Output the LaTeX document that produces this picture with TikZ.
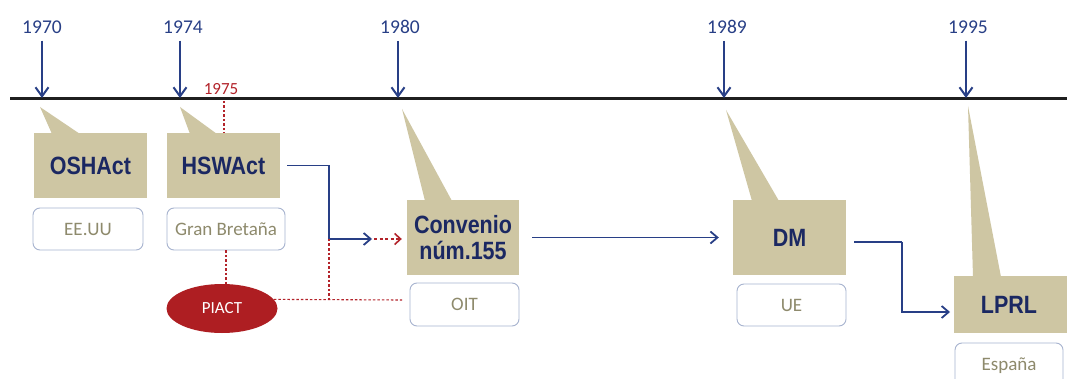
\documentclass[tikz,border=0pt]{standalone}
\usepackage{fontspec}
\setmainfont{Carlito}
\newfontfamily\boxfont{Liberation Sans}[FakeStretch=0.86]
\usetikzlibrary{arrows.meta,shapes.geometric}
\definecolor{tanc}{HTML}{CEC6A3}
\definecolor{navy}{HTML}{1B2862}
\definecolor{lineblue}{HTML}{283F86}
\definecolor{dred}{HTML}{B3232A}
\definecolor{olivetxt}{HTML}{8E8A6C}
\definecolor{bordr}{HTML}{A7B3CF}
\definecolor{piactred}{HTML}{AE1E22}
\tikzset{
  yearlbl/.style={text=lineblue, font=\fontsize{19.5}{21}\selectfont, inner sep=0pt},
  yarrow/.style={draw=lineblue, line width=1.8pt, -{Straight Barb[length=9pt,width=13pt,line width=2pt]}},
  tanbox/.style={fill=tanc, draw=none, text=navy, font=\boxfont\bfseries\fontsize{25}{26}\selectfont, align=center, inner sep=0pt},
  tanptr/.style={fill=tanc, draw=none},
  wbox/.style={draw=bordr, line width=0.9pt, fill=white, rounded corners=7pt, text=olivetxt, font=\fontsize{19}{21}\selectfont, inner sep=0pt},
  conn/.style={draw=lineblue, line width=1.8pt},
  connarr/.style={conn, -{Straight Barb[length=7pt,width=12pt,line width=1.8pt]}},
  reddash/.style={draw=dred, line width=1.1pt, dash pattern=on 2.5pt off 2pt},
  redarr/.style={draw=dred, line width=1.6pt, dash pattern=on 3pt off 2.5pt, -{Straight Barb[length=6pt,width=11pt,line width=1.6pt]}},
}
\begin{document}
\begin{tikzpicture}[x=1pt,y=-1pt]
\useasboundingbox (0,0) rectangle (1067,379);
\fill[white] (0,0) rectangle (1067,379);

% callout pointers
\fill[tanptr] (40,107) -- (52,134) -- (80,134) -- cycle;
\fill[tanptr] (180,107) -- (190,134) -- (217,134) -- cycle;
\fill[tanptr] (402,109) -- (425,201) -- (452,201) -- cycle;
\fill[tanptr] (726,110) -- (752,201) -- (779,201) -- cycle;
\fill[tanptr] (968,106) -- (973,277) -- (1001,277) -- cycle;

% timeline
\coordinate (tlL) at (10,99);
\coordinate (tlR) at (1067,99);
\draw[line width=3pt, color=black!88] (tlL) -- (tlR);

% years
\node[yearlbl] (y1970) at (42,27) {1970};
\node[yearlbl] (y1974) at (183,27) {1974};
\node[yearlbl] (y1980) at (400,27) {1980};
\node[yearlbl] (y1989) at (727,27) {1989};
\node[yearlbl] (y1995) at (968,27) {1995};
\coordinate (t1970) at (42,98);
\coordinate (t1974) at (180,98);
\coordinate (t1980) at (398,98);
\coordinate (t1989) at (724,98);
\coordinate (t1995) at (966,98);
\draw[yarrow, shorten <=7pt] (y1970.south -| t1970) -- (t1970);
\draw[yarrow, shorten <=7pt] (y1974.south -| t1974) -- (t1974);
\draw[yarrow, shorten <=7pt] (y1980.south -| t1980) -- (t1980);
\draw[yarrow, shorten <=7pt] (y1989.south -| t1989) -- (t1989);
\draw[yarrow, shorten <=7pt] (y1995.south -| t1995) -- (t1995);

% tan boxes
\node[tanbox, minimum width=113pt, minimum height=65pt] (osh) at (90.5,165.5) {OSHAct};
\node[tanbox, minimum width=113pt, minimum height=65pt] (hsw) at (223.5,165.5) {HSWAct};
\node[tanbox, minimum width=112pt, minimum height=75pt] (conv) at (463,237.5) {Convenio\\núm.155};
\node[tanbox, minimum width=113pt, minimum height=75pt] (dm) at (789.5,237.5) {DM};
\node[tanbox, minimum width=116pt, minimum height=57pt, text width=100pt] (lprl) at (1012,304.5) {\hspace*{-6pt}LPRL};

% white label boxes
\node[wbox, minimum width=110pt, minimum height=42pt] (eeuu) at (88,229) {EE.UU};
\node[wbox, minimum width=118pt, minimum height=42pt] (gb) at (226,229) {Gran Bretaña};
\node[wbox, minimum width=109pt, minimum height=43pt] (oit) at (464.5,304.5) {OIT};
\node[wbox, minimum width=109pt, minimum height=42pt] (ue) at (791.5,305) {UE};
\node[wbox, minimum width=108pt, minimum height=46pt, text depth=0pt] (esp) at (1009,366) {\raisebox{3pt}{España}};

% PIACT
\node[ellipse, fill=piactred, text=white, minimum width=111pt, minimum height=49pt, inner sep=0pt, font=\fontsize{17}{19}\selectfont] (piact) at (222,308.5) {PIACT};

% 1975 marker
\node[text=dred, font=\fontsize{17}{19}\selectfont, inner sep=0pt] (y1975) at (221,89) {1975};
\coordinate (c1975) at (224,101);
\draw[reddash] (c1975) -- (c1975 |- hsw.north);

% connectors
\coordinate (j1) at (329,239);
\coordinate (mid) at (372,239);
\draw[conn] ([xshift=7pt]hsw.east) -| (j1);
\draw[connarr] (j1) -- (mid);
\draw[redarr, shorten <=2pt, shorten >=5pt] (mid) -- (conv.west |- mid);
\draw[reddash] (gb.south) -- (gb.south |- piact.north);
\coordinate (oitend) at (402,300);
\draw[reddash] (piact.10) -- (oitend);
\draw[reddash] (j1) -- (j1 |- oitend);
\draw[connarr, shorten <=13pt, shorten >=14pt] (conv.east) -- (dm.west);
\coordinate (d1) at (854,242);
\coordinate (d2) at (950,312);
\draw[conn] (d1) -- (902,242);
\draw[connarr] (902,242) |- (d2);
\end{tikzpicture}
\end{document}
